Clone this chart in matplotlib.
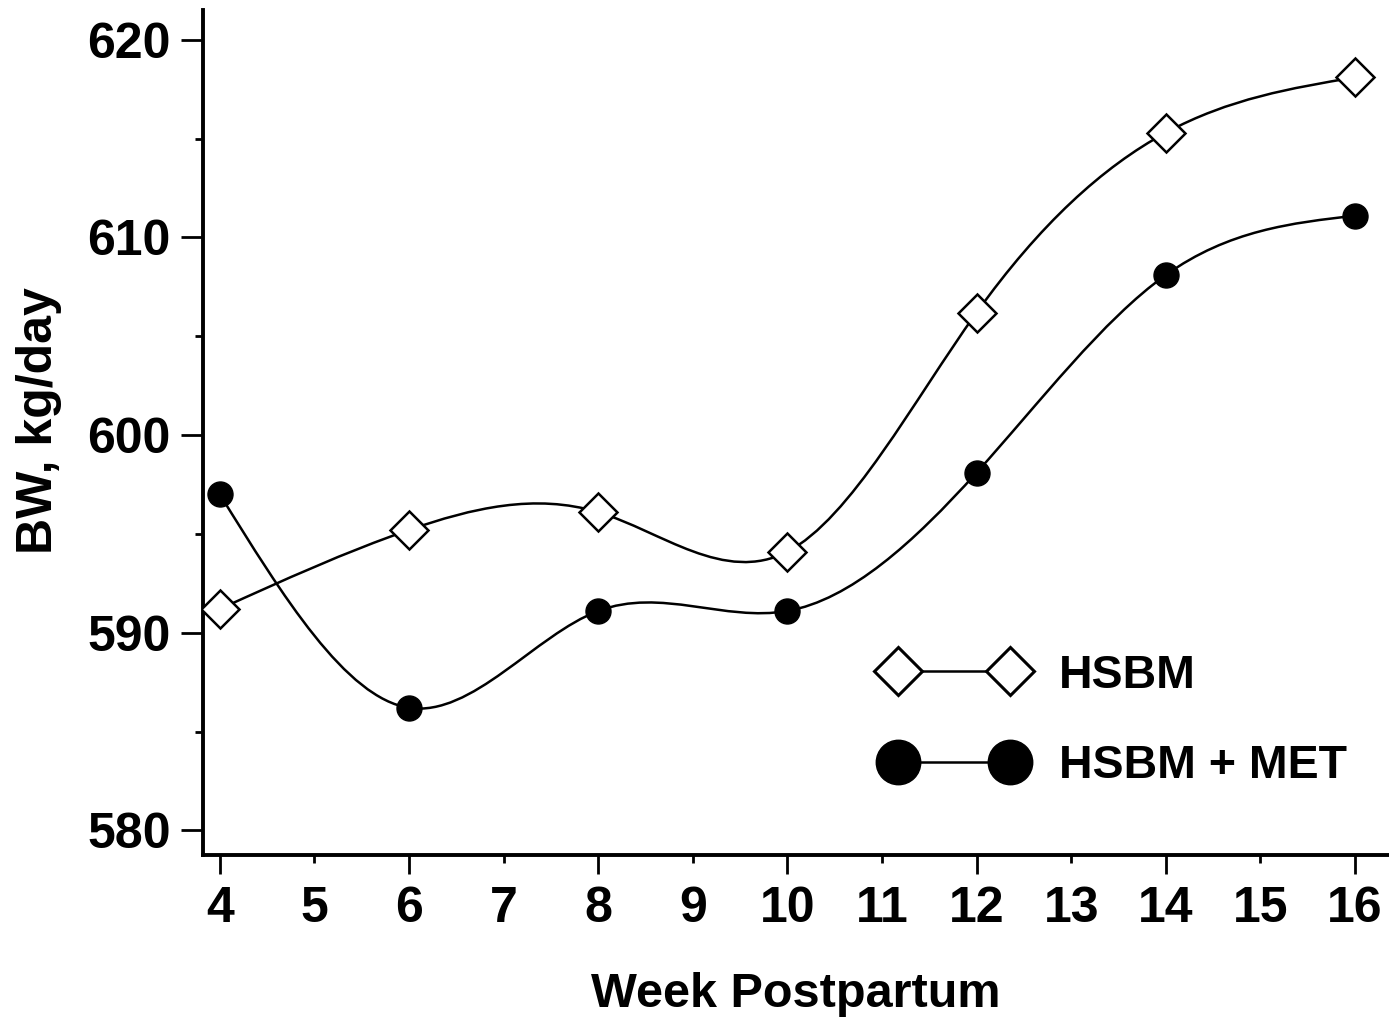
import numpy as np
import matplotlib
matplotlib.use("Agg")
import matplotlib.pyplot as plt
from matplotlib.path import Path
from matplotlib.patches import PathPatch
from matplotlib.ticker import MultipleLocator, FormatStrFormatter

plt.rcParams['font.family'] = ['Liberation Sans', 'DejaVu Sans']
plt.rcParams['font.weight'] = 'bold'

weeks = [4, 6, 8, 10, 12, 14, 16]
hsbm = [591.2, 595.2, 596.1, 594.1, 606.2, 615.3, 618.1]
hsbm_met = [597.0, 586.2, 591.1, 591.1, 598.1, 608.1, 611.1]


def spline_path(x, y):
    # natural cubic spline drawn as cubic bezier segments
    x = np.asarray(x, float)
    y = np.asarray(y, float)
    n = len(x)
    h = np.diff(x)
    A = np.zeros((n, n))
    b = np.zeros(n)
    A[0, 0] = A[-1, -1] = 1
    for i in range(1, n - 1):
        A[i, i - 1] = h[i - 1]
        A[i, i] = 2 * (h[i - 1] + h[i])
        A[i, i + 1] = h[i]
        b[i] = 6 * ((y[i + 1] - y[i]) / h[i] - (y[i] - y[i - 1]) / h[i - 1])
    M = np.linalg.solve(A, b)
    verts = [(x[0], y[0])]
    codes = [Path.MOVETO]
    for i in range(n - 1):
        d = (y[i + 1] - y[i]) / h[i]
        m0 = d - h[i] * (2 * M[i] + M[i + 1]) / 6
        m1 = d + h[i] * (M[i] + 2 * M[i + 1]) / 6
        verts += [(x[i] + h[i] / 3, y[i] + m0 * h[i] / 3),
                  (x[i + 1] - h[i] / 3, y[i + 1] - m1 * h[i] / 3),
                  (x[i + 1], y[i + 1])]
        codes += [Path.CURVE4] * 3
    return Path(verts, codes)


fig = plt.figure(figsize=(13.89, 10.22), dpi=100)
ax = fig.add_axes([0.146, 0.163, 0.854, 0.827])

for ys in [hsbm, hsbm_met]:
    ax.add_patch(PathPatch(spline_path(weeks, ys), facecolor='none',
                           edgecolor='black', lw=1.8, zorder=2))

ax.plot(weeks, hsbm, linestyle='none', marker='D', markersize=19,
        markerfacecolor='white', markeredgecolor='black', markeredgewidth=1.8, zorder=3)
ax.plot(weeks, hsbm_met, linestyle='none', marker='o', markersize=18,
        color='black', zorder=3)

# legend handles
ax.plot([], [], '-', color='black', lw=1.8, marker='D', markersize=24,
        markerfacecolor='white', markeredgecolor='black', markeredgewidth=2.2,
        label='HSBM')
ax.plot([], [], '-', color='black', lw=1.8, marker='o', markersize=32,
        label='HSBM + MET')
handles, labels = ax.get_legend_handles_labels()
ax.legend(handles, labels, loc='center left', bbox_to_anchor=(0.559, 0.159),
          borderaxespad=0, frameon=False, numpoints=2, handlelength=2.99,
          handletextpad=0.75, labelspacing=1.0,
          prop={'size': 33.5, 'weight': 'bold'})

ax.set_xlim(3.82, 16.36)
ax.set_ylim(578.73, 621.5)
ax.xaxis.set_major_locator(MultipleLocator(2))
ax.xaxis.set_minor_locator(MultipleLocator(1))
ax.yaxis.set_major_locator(MultipleLocator(10))
ax.yaxis.set_minor_locator(MultipleLocator(5))
ax.xaxis.set_minor_formatter(FormatStrFormatter('%d'))

for s in ['top', 'right']:
    ax.spines[s].set_visible(False)
for s in ['left', 'bottom']:
    ax.spines[s].set_linewidth(2.8)

ax.tick_params(axis='y', which='major', length=16, width=2, pad=7, labelsize=36)
ax.tick_params(axis='y', which='minor', length=6, width=2)
ax.tick_params(axis='x', which='major', length=14, width=2, pad=8, labelsize=36)
ax.tick_params(axis='x', which='minor', length=6, width=2, pad=16, labelsize=36)

ax.set_xlabel('Week Postpartum', fontsize=35, fontweight='bold', labelpad=29)
ax.set_ylabel('BW, kg/day', fontsize=36, fontweight='bold')
ax.yaxis.set_label_coords(-0.119, 0.514)

fig.savefig('out.png', dpi=100)
